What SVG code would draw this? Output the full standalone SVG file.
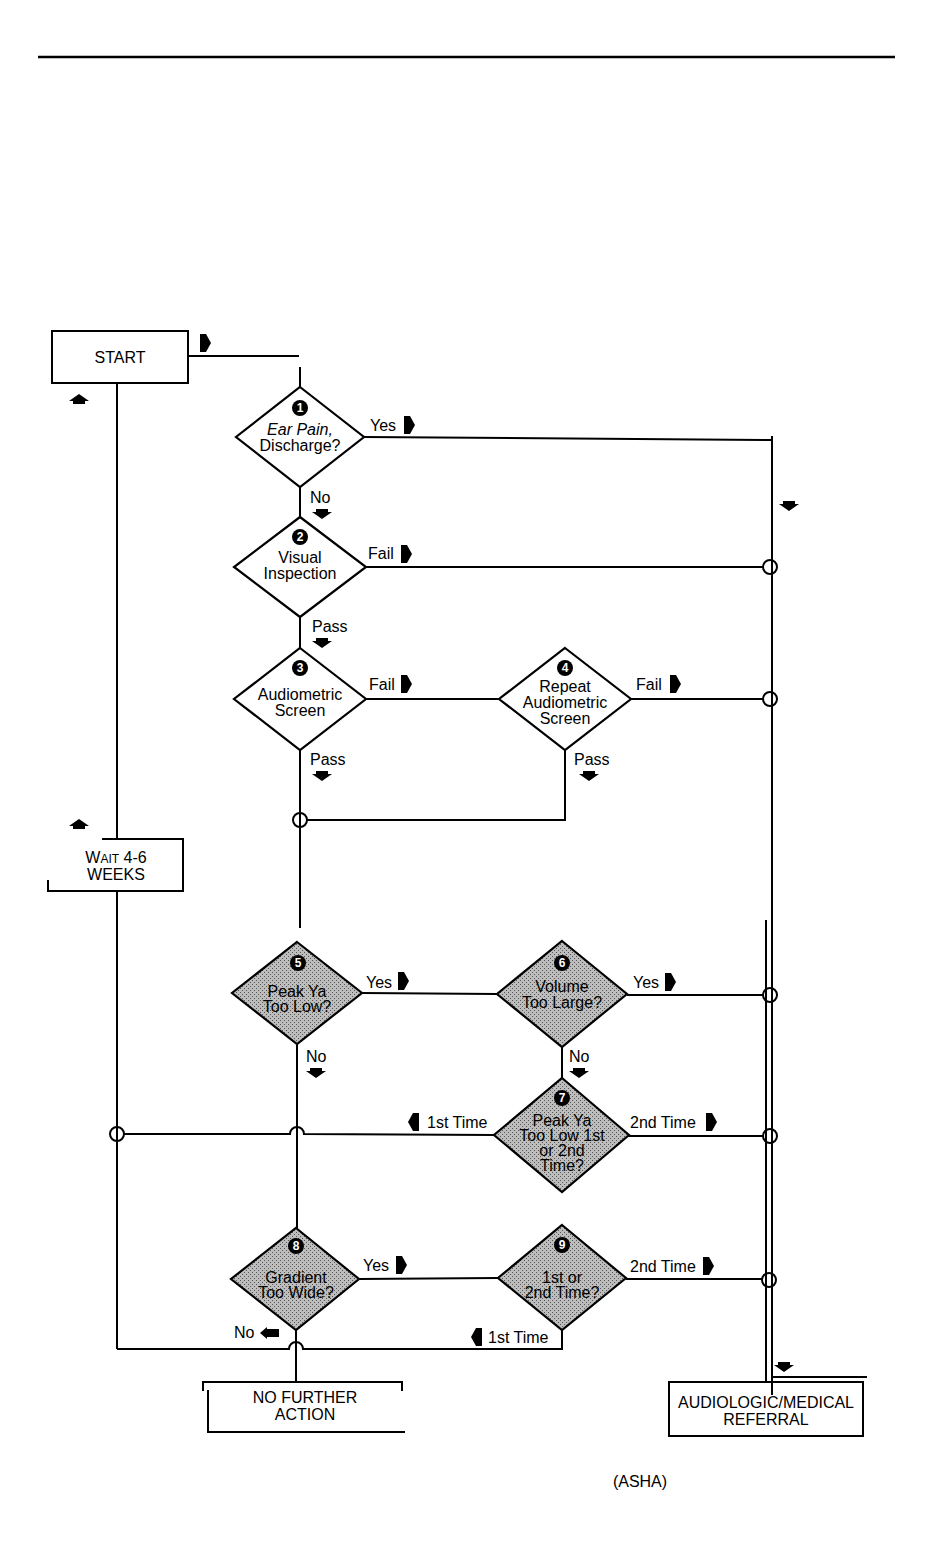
<svg xmlns="http://www.w3.org/2000/svg" width="950" height="1554" viewBox="0 0 950 1554">
<style>
 .ln{fill:none;stroke:#000;stroke-width:2}
 .bx{fill:#fff;stroke:#000;stroke-width:2}
 .dw{fill:#fff;stroke:#000;stroke-width:2.2}
 .dg{fill:url(#ht);stroke:#000;stroke-width:2.2}
 .jn{fill:none;stroke:#000;stroke-width:2}
 .t{font-family:"Liberation Sans",Arial,sans-serif;font-size:16px;fill:#000;text-anchor:middle}
 .lb{font-family:"Liberation Sans",Arial,sans-serif;font-size:16px;fill:#000}
 .bt{font-family:"Liberation Sans",Arial,sans-serif;font-size:16px;fill:#000;text-anchor:middle}
 .num{font-family:"Liberation Sans",Arial,sans-serif;font-size:12px;font-weight:bold;fill:#fff;text-anchor:middle}
 .ar{fill:#000}
</style>
<defs>
 <pattern id="ht" width="4" height="4" patternUnits="userSpaceOnUse">
  <rect width="4" height="4" fill="#bdbdbd"/>
  <rect x="0" y="0" width="1" height="1" fill="#555"/>
  <rect x="2" y="2" width="1" height="1" fill="#555"/>
 </pattern>
 <path id="aR" class="ar" d="M-5,-9 L1,-9 L6,0 L1,9 L-5,9 Z"/>
 <path id="aL" class="ar" d="M5,-9 L-1,-9 L-6,0 L-1,9 L5,9 Z"/>
 <path id="aD" class="ar" d="M-6,-5 H6 V-2 H10 L0,5 L-10,-2 H-6 Z"/>
 <path id="aU" class="ar" d="M-6,5 H6 V2 H10 L0,-5 L-10,2 H-6 Z"/>
 <path id="aLw" class="ar" d="M-10,0 L-3,-6 V-4 H9 V4 H-3 V6 Z"/>
</defs>
<rect width="950" height="1554" fill="#fff"/>
<line x1="38" y1="57" x2="895" y2="57" stroke="#000" stroke-width="2.5"/>

<g id="connectors">
 <path class="ln" d="M188,356 H299"/>
 <path class="ln" d="M300,367 V387"/>
 <path class="ln" d="M300,487 V517"/>
 <path class="ln" d="M364,437 L772,440"/>
 <path class="ln" d="M772,436 V1395"/>
 <path class="ln" d="M766,920 V1382"/>
 <path class="ln" d="M366,567 H763"/>
 <path class="ln" d="M300,617 V648"/>
 <path class="ln" d="M366,699 H499"/>
 <path class="ln" d="M631,699 H763"/>
 <path class="ln" d="M300,750 V928"/>
 <path class="ln" d="M565,750 V820 H307"/>
 <path class="ln" d="M362,993 L497,994"/>
 <path class="ln" d="M627,995 H763"/>
 <path class="ln" d="M562,1047 V1078"/>
 <path class="ln" d="M628,1136 H763"/>
 <path class="ln" d="M494,1135 L304,1134 A7,7 0 0 0 290,1134 L124,1134"/>
 <path class="ln" d="M297,1044 V1228"/>
 <path class="ln" d="M359,1279 L498,1278"/>
 <path class="ln" d="M626,1279 H763"/>
 <path class="ln" d="M562,1329 V1349 H303 A7,7 0 0 0 289,1349 H117"/>
 <path class="ln" d="M296,1330 V1382"/>
 <path class="ln" d="M117,383 V839"/>
 <path class="ln" d="M117,891 V1349"/>
 <path class="ln" d="M772,1377 H867"/>
 <circle class="jn" cx="770" cy="567" r="7"/>
 <circle class="jn" cx="770" cy="699" r="7"/>
 <circle class="jn" cx="300" cy="820" r="7"/>
 <circle class="jn" cx="770" cy="995" r="7"/>
 <circle class="jn" cx="770" cy="1136" r="7"/>
 <circle class="jn" cx="117" cy="1134" r="7"/>
 <circle class="jn" cx="769" cy="1280" r="7"/>
 <use href="#aR" x="205" y="343"/>
 <use href="#aU" x="79" y="399"/>
 <use href="#aD" x="789" y="506"/>
 <use href="#aU" x="79" y="824"/>
 <use href="#aD" x="784" y="1367"/>
</g>

<g id="labels">
 <text class="lb" x="370" y="431">Yes</text><use href="#aR" x="409" y="425"/>
 <text class="lb" x="310" y="503">No</text><use href="#aD" x="322" y="514"/>
 <text class="lb" x="368" y="559">Fail</text><use href="#aR" x="406" y="554"/>
 <text class="lb" x="312" y="632">Pass</text><use href="#aD" x="322" y="643"/>
 <text class="lb" x="369" y="690">Fail</text><use href="#aR" x="406" y="684"/>
 <text class="lb" x="636" y="690">Fail</text><use href="#aR" x="675" y="684"/>
 <text class="lb" x="310" y="765">Pass</text><use href="#aD" x="322" y="776"/>
 <text class="lb" x="574" y="765">Pass</text><use href="#aD" x="589" y="776"/>
 <text class="lb" x="366" y="988">Yes</text><use href="#aR" x="403" y="981"/>
 <text class="lb" x="633" y="988">Yes</text><use href="#aR" x="670" y="982"/>
 <text class="lb" x="306" y="1062">No</text><use href="#aD" x="316" y="1073"/>
 <text class="lb" x="569" y="1062">No</text><use href="#aD" x="579" y="1073"/>
 <use href="#aL" x="414" y="1122"/><text class="lb" x="427" y="1128">1st Time</text>
 <text class="lb" x="630" y="1128">2nd Time</text><use href="#aR" x="711" y="1122"/>
 <text class="lb" x="363" y="1271">Yes</text><use href="#aR" x="401" y="1265"/>
 <text class="lb" x="630" y="1272">2nd Time</text><use href="#aR" x="708" y="1266"/>
 <text class="lb" x="234" y="1338">No</text><use href="#aLw" x="270" y="1333"/>
 <use href="#aL" x="477" y="1337"/><text class="lb" x="488" y="1343">1st Time</text>
</g>

<g id="start">
 <rect class="bx" x="52" y="331" width="136" height="52"/>
 <text class="bt" x="120" y="363">START</text>
</g>

<g id="wait">
 <path class="ln" d="M102,839 H183 V891 H48 V880"/>
 <text class="bt" x="116" y="863" font-size="15">W<tspan font-size="12">AIT</tspan> 4-6</text>
 <text class="bt" x="116" y="880" font-size="15">WEEKS</text>
</g>

<g id="d1">
 <polygon class="dw" points="300,387 364,437 300,487 236,437"/>
 <circle cx="300" cy="408" r="8"/><text class="num" x="300" y="412">1</text>
 <text class="t" x="300" y="435" font-style="italic">Ear Pain,</text>
 <text class="t" x="300" y="451">Discharge?</text>
</g>
<g id="d2">
 <polygon class="dw" points="300,517 366,567 300,617 234,567"/>
 <circle cx="300" cy="537" r="8"/><text class="num" x="300" y="541">2</text>
 <text class="t" x="300" y="563">Visual</text>
 <text class="t" x="300" y="579">Inspection</text>
</g>
<g id="d3">
 <polygon class="dw" points="300,648 366,699 300,750 234,699"/>
 <circle cx="300" cy="668" r="8"/><text class="num" x="300" y="672">3</text>
 <text class="t" x="300" y="700">Audiometric</text>
 <text class="t" x="300" y="716">Screen</text>
</g>
<g id="d4">
 <polygon class="dw" points="565,648 631,699 565,750 499,699"/>
 <circle cx="565" cy="668" r="8"/><text class="num" x="565" y="672">4</text>
 <text class="t" x="565" y="692">Repeat</text>
 <text class="t" x="565" y="708">Audiometric</text>
 <text class="t" x="565" y="724">Screen</text>
</g>
<g id="d5">
 <polygon class="dg" points="297,942 362,993 297,1044 232,993"/>
 <circle cx="298" cy="963" r="8"/><text class="num" x="298" y="967">5</text>
 <text class="t" x="297" y="997">Peak Ya</text>
 <text class="t" x="297" y="1012">Too Low?</text>
</g>
<g id="d6">
 <polygon class="dg" points="562,941 627,994 562,1047 497,994"/>
 <circle cx="562" cy="963" r="8"/><text class="num" x="562" y="967">6</text>
 <text class="t" x="562" y="992">Volume</text>
 <text class="t" x="562" y="1008">Too Large?</text>
</g>
<g id="d7">
 <polygon class="dg" points="562,1078 629,1135 562,1192 494,1135"/>
 <circle cx="562" cy="1098" r="8"/><text class="num" x="562" y="1102">7</text>
 <text class="t" x="562" y="1126">Peak Ya</text>
 <text class="t" x="562" y="1141">Too Low 1st</text>
 <text class="t" x="562" y="1156">or 2nd</text>
 <text class="t" x="562" y="1171">Time?</text>
</g>
<g id="d8">
 <polygon class="dg" points="296,1228 359,1279 296,1330 231,1279"/>
 <circle cx="296" cy="1246" r="8"/><text class="num" x="296" y="1250">8</text>
 <text class="t" x="296" y="1283">Gradient</text>
 <text class="t" x="296" y="1298">Too Wide?</text>
</g>
<g id="d9">
 <polygon class="dg" points="562,1225 626,1278 562,1330 498,1278"/>
 <circle cx="562" cy="1245" r="8"/><text class="num" x="562" y="1249">9</text>
 <text class="t" x="562" y="1283">1st or</text>
 <text class="t" x="562" y="1298">2nd Time?</text>
</g>

<g id="nofurther">
 <path class="ln" d="M203,1391 V1382 H402 V1391"/>
 <path class="ln" d="M208,1390 V1432 H405"/>
 <text class="bt" x="305" y="1403">NO FURTHER</text>
 <text class="bt" x="305" y="1420">ACTION</text>
</g>
<g id="referral">
 <rect class="bx" x="669" y="1382" width="194" height="54"/>
 <path class="ln" d="M772,1382 V1395"/>
 <text class="bt" x="766" y="1408">AUDIOLOGIC/MEDICAL</text>
 <text class="bt" x="766" y="1425">REFERRAL</text>
</g>
<text class="lb" x="640" y="1487" font-size="19" text-anchor="middle">(ASHA)</text>
</svg>
